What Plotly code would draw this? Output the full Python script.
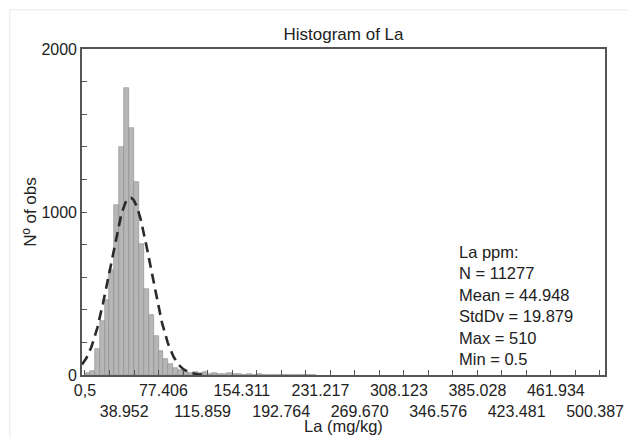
import plotly.graph_objects as go
import math

# ---- data ----
bin_start = 0.5
bin_width = 4.8066
counts = [10, 26, 160, 330, 460, 644, 1043, 1401, 1759, 1517, 1186, 804, 526, 370,
          242, 148, 96, 70, 41, 29, 25, 12, 20, 14, 18, 8, 12, 6, 5, 14, 4, 7, 3, 6,
          2, 5, 2, 3, 1, 2, 1, 2, 0, 1, 1, 0, 1]

n_obs = 11277
mean_val = 44.948
std_val = 19.879
max_val = 510
min_val = 0.5

tick_values = [0.5, 38.952, 77.406, 115.859, 154.311, 192.764, 231.217, 269.670,
               308.123, 346.576, 385.028, 423.481, 461.934, 500.387]
tick_labels = ["0,5", "38.952", "77.406", "115.859", "154.311", "192.764", "231.217",
               "269.670", "308.123", "346.576", "385.028", "423.481", "461.934", "500.387"]

# ---- derived ----
centers = [bin_start + (i + 0.5) * bin_width for i in range(len(counts))]
ticktext = [t if i % 2 == 0 else " <br>" + t for i, t in enumerate(tick_labels)]

curve_x = [-2.4 + 0.5 * i for i in range(236)]
peak = n_obs * bin_width / (std_val * math.sqrt(2 * math.pi))
curve_y = [peak * math.exp(-0.5 * ((x - mean_val) / std_val) ** 2) for x in curve_x]

FONT = "Liberation Sans, Arial, sans-serif"
TXT = "#222222"
FRAME = "#555555"

fig = go.Figure()
fig.add_trace(go.Bar(
    x=centers, y=counts, width=bin_width,
    marker=dict(color="#b6b6b6", line=dict(color="#8c8c8c", width=0.6)),
    hoverinfo="x+y", showlegend=False,
))
fig.add_trace(go.Scatter(
    x=curve_x, y=curve_y, mode="lines",
    line=dict(color="#2a2a2a", width=2.6, dash="10px,6px"),
    showlegend=False,
))

fig.update_layout(
    width=627, height=437,
    margin=dict(l=82, r=22, t=49, b=62),
    paper_bgcolor="white", plot_bgcolor="white",
    font=dict(family=FONT, size=16, color=TXT),
    bargap=0,
    title=dict(text="Histogram of La", x=0.5, xref="paper", xanchor="center",
               y=1, yref="paper", yanchor="bottom", pad=dict(b=9),
               font=dict(family=FONT, size=17, color=TXT)),
    xaxis=dict(
        range=[-2.4, 510.1], showgrid=False, zeroline=False, automargin=False,
        showline=True, linecolor=FRAME, linewidth=1.6, mirror=True,
        tickmode="array", tickvals=tick_values, ticktext=ticktext, tickangle=0,
        ticks="", tickfont=dict(family=FONT, size=16, color=TXT),
        minor=dict(tickmode="linear", tick0=0.5, dtick=24.033, ticks="inside",
                   ticklen=5, tickcolor=FRAME, tickwidth=1.2, showgrid=False),
    ),
    yaxis=dict(
        range=[0, 2000], showgrid=False, zeroline=False, automargin=False,
        showline=True, linecolor=FRAME, linewidth=1.6, mirror=True,
        tickmode="linear", tick0=0, dtick=1000, ticks="inside", ticklen=5,
        tickcolor=FRAME, tickwidth=1.2,
        tickfont=dict(family=FONT, size=16, color=TXT),
        minor=dict(tickmode="linear", tick0=0, dtick=200, ticks="inside",
                   ticklen=5, tickcolor=FRAME, tickwidth=1.2, showgrid=False),
        title=dict(text="Nº of obs", standoff=0,
                   font=dict(family=FONT, size=17, color=TXT)),
    ),
)

# x-axis title
fig.add_annotation(text="La (mg/kg)", xref="paper", yref="paper", x=0.5, y=-0.157,
                   xanchor="center", yanchor="middle", showarrow=False,
                   font=dict(family=FONT, size=16.5, color=TXT))

stats_text = "<br>".join([
    "La ppm:",
    f"N = {n_obs}",
    f"Mean = {mean_val}",
    f"StdDv = {std_val}",
    f"Max = {max_val}",
    f"Min = {min_val}",
])
fig.add_annotation(text=stats_text, xref="paper", yref="paper", x=0.717, y=0.41,
                   xanchor="left", yanchor="top", align="left", showarrow=False,
                   font=dict(family=FONT, size=16.5, color=TXT))

fig.add_shape(type="rect", xref="paper", yref="paper",
              x0=-0.138, x1=1.1, y0=-0.3, y1=1.12,
              line=dict(color="#e8e8e8", width=1), fillcolor="rgba(0,0,0,0)", layer="below")

fig.write_html("out.html", config={"displayModeBar": False},
               post_script="document.body.style.margin='0';document.body.style.overflow='hidden';")
